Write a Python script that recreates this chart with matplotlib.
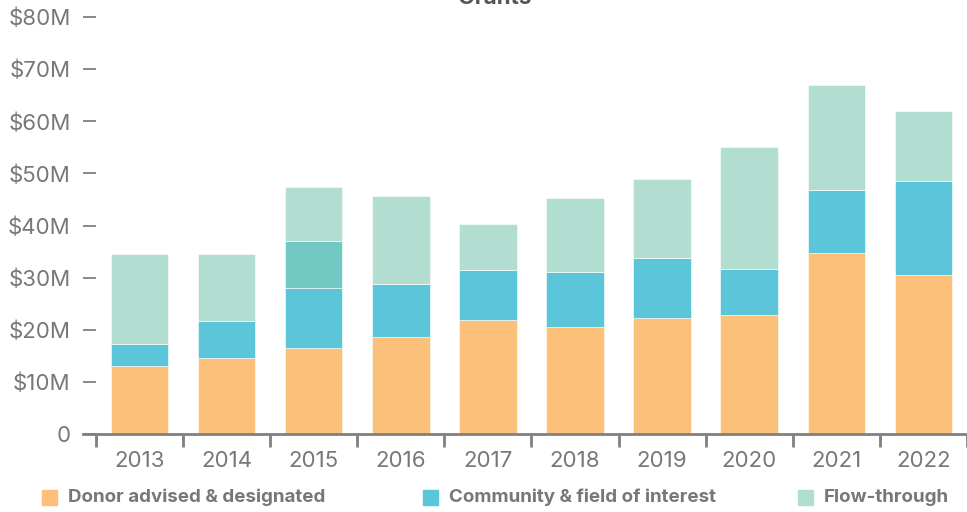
import matplotlib.pyplot as plt
import numpy as np
from matplotlib.patches import Rectangle

plt.rcParams["font.family"] = ["Inter", "DejaVu Sans"]

YEARS = ["2013", "2014", "2015", "2016", "2017", "2018", "2019", "2020", "2021", "2022"]
# stacked values in $M
DONOR = [13.0, 14.6, 16.5, 18.6, 21.9, 20.5, 22.3, 22.8, 34.7, 30.5]
COMMUNITY = [4.3, 7.1, 11.5, 10.2, 9.6, 10.6, 11.5, 8.9, 12.1, 18.1]
OVERLAP = [0.0, 0.0, 9.0, 0.0, 0.0, 0.0, 0.0, 0.0, 0.0, 0.0]
FLOW = [17.2, 12.8, 10.4, 16.9, 8.8, 14.2, 15.1, 23.4, 20.2, 13.4]

Y_TICKS = [0, 10, 20, 30, 40, 50, 60, 70, 80]
Y_LABELS = ["0", "$10M", "$20M", "$30M", "$40M", "$50M", "$60M", "$70M", "$80M"]

LEGEND_LABELS = ["Donor advised & designated", "Community & field of interest", "Flow-through"]

C_DONOR = "#FBC07A"
C_COMMUNITY = "#5BC5DA"
C_OVERLAP = "#72C9C4"
C_FLOW = "#B2DED1"
GRAY = "#77767a"

W, H = 967, 512
fig = plt.figure(figsize=(W / 100, H / 100), dpi=100)
ax = fig.add_axes([83 / W, 78 / H, (W - 83) / W, (434 - 17) / H])

x = np.arange(len(YEARS))
width = 0.66
bottom = np.zeros(len(YEARS))
for values, color in [(DONOR, C_DONOR), (COMMUNITY, C_COMMUNITY),
                      (OVERLAP, C_OVERLAP), (FLOW, C_FLOW)]:
    ax.bar(x, values, width, bottom=bottom, color=color, edgecolor="white",
           linewidth=0.4, zorder=2)
    bottom += np.array(values)

ax.set_ylim(0, 80)
ax.set_xlim(-0.648, 9.40)

for side in ["top", "right", "left"]:
    ax.spines[side].set_visible(False)
ax.spines["bottom"].set_color("#808080")
ax.spines["bottom"].set_linewidth(2)
ax.spines["bottom"].set_zorder(3)

ax.set_yticks(Y_TICKS)
ax.set_yticklabels(Y_LABELS)
ax.tick_params(axis="y", direction="in", length=9, width=1.2, color=GRAY,
               labelcolor=GRAY, labelsize=16, pad=9)

ax.set_xticks(x)
ax.set_xticklabels(YEARS)
ax.set_xticks(np.arange(-0.5, len(YEARS)), minor=True)
ax.tick_params(axis="x", which="major", length=0, labelcolor=GRAY, labelsize=16, pad=12)
ax.tick_params(axis="x", which="minor", direction="out", length=9, width=2, color="#808080")

# title sits partly above the top edge, as in the source image
fig.text(0.512, 1 - 4 / H, "Grants", ha="center", va="baseline", fontsize=16,
         fontweight="bold", color="#555555")

# legend
legend_x = [42, 423, 798]
for lx, label, color in zip(legend_x, LEGEND_LABELS, [C_DONOR, C_COMMUNITY, C_FLOW]):
    fig.add_artist(Rectangle((lx / W, (H - 505) / H), 15 / W, 15 / H,
                             transform=fig.transFigure, color=color))
    fig.text((lx + 26) / W, (H - 497) / H, label, ha="left", va="center",
             fontsize=13.5, fontweight="bold", color=GRAY)

fig.savefig("out.png", dpi=100)
